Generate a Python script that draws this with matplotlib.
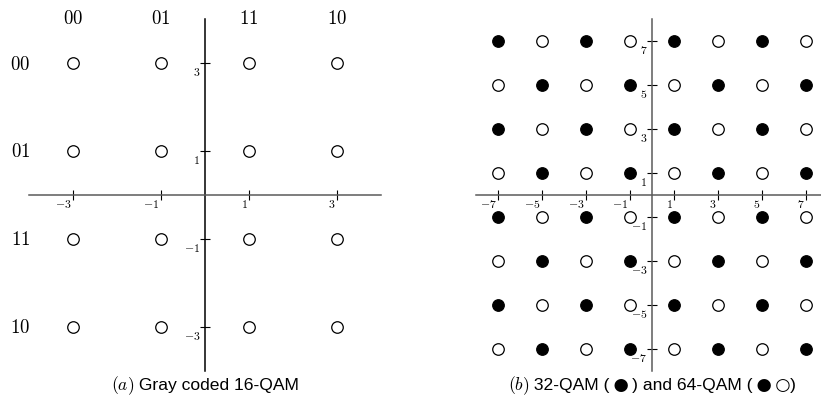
import matplotlib.pyplot as plt
import numpy as np
from matplotlib.offsetbox import TextArea, HPacker, AnchoredOffsetbox

plt.rcParams['mathtext.fontset'] = 'cm'

# 16-QAM: in-phase / quadrature levels and their Gray code bits
qam16_levels = [-3, -1, 1, 3]
gray_cols = ['00', '01', '11', '10']   # along I (left to right)
gray_rows = ['00', '01', '11', '10']   # along Q (top to bottom)
qam16_ticks = [-3, -1, 1, 3]

# 64-QAM grid; 1 marks the points that also belong to 32-QAM
qam64_levels = [-7, -5, -3, -1, 1, 3, 5, 7]
qam64_rows_q = [7, 5, 3, 1, -1, -3, -5, -7]
qam32_mask = [
    [1, 0, 1, 0, 1, 0, 1, 0],
    [0, 1, 0, 1, 0, 1, 0, 1],
    [1, 0, 1, 0, 1, 0, 1, 0],
    [0, 1, 0, 1, 0, 1, 0, 1],
    [1, 0, 1, 0, 1, 0, 1, 0],
    [0, 1, 0, 1, 0, 1, 0, 1],
    [1, 0, 1, 0, 1, 0, 1, 0],
    [0, 1, 0, 1, 0, 1, 0, 1],
]
qam64_ticks = [-7, -5, -3, -1, 1, 3, 5, 7]

AXIS_GRAY = '#5a5a5a'
MS = 8.3
MEW = 0.9
CAP_FS = 12.6
SANS = 'Liberation Sans'
SYM = 'DejaVu Sans'


def setup_axes(ax, lim, ticks, xcolor, ycolor):
    ax.set_xlim(-lim, lim)
    ax.set_ylim(-lim, lim)
    for s in ['top', 'right']:
        ax.spines[s].set_visible(False)
    ax.spines['left'].set_position('zero')
    ax.spines['bottom'].set_position('zero')
    ax.spines['bottom'].set_color(xcolor)
    ax.spines['left'].set_color(ycolor)
    ax.spines['bottom'].set_linewidth(1.1)
    ax.spines['left'].set_linewidth(1.1)
    ax.set_xticks(ticks)
    ax.set_yticks(ticks)
    ax.tick_params(axis='x', direction='inout', length=7, width=0.8,
                   color='black', labelbottom=False)
    ax.tick_params(axis='y', direction='inout', length=7, width=0.8,
                   color='black', labelleft=False)
    ax.patch.set_visible(False)
    # tick labels sit below-left of each tick, as in TikZ axes
    for t in ticks:
        lab = r'$%d$' % t if t > 0 else r'$-%d$' % abs(t)
        ax.annotate(lab, (t, 0), xytext=(-1.0, -1.6), textcoords='offset points',
                    ha='right', va='top', fontsize=8.5, annotation_clip=False)
        ax.annotate(lab, (0, t), xytext=(-3.4, -1.4), textcoords='offset points',
                    ha='right', va='top', fontsize=8.5, annotation_clip=False)


def caption(fig, x, y, parts):
    # parts: list of (text, family) pieces laid out side by side
    boxes = [TextArea(s, textprops=dict(fontsize=CAP_FS, family=fam))
             for s, fam in parts]
    row = HPacker(children=boxes, align='baseline', pad=0, sep=0)
    anc = AnchoredOffsetbox(loc='center', child=row, frameon=False, pad=0,
                            bbox_to_anchor=(x, y), bbox_transform=fig.transFigure)
    fig.add_artist(anc)


fig = plt.figure(figsize=(8.21, 4.06), dpi=100)
W, H = 821, 406
ax1 = fig.add_axes([29 / W, (H - 372) / H, 352 / W, 352 / H])
ax2 = fig.add_axes([476 / W, (H - 372) / H, 352 / W, 352 / H])

# (a) Gray coded 16-QAM
setup_axes(ax1, 4, qam16_ticks, AXIS_GRAY, 'black')
I, Q = np.meshgrid(qam16_levels, qam16_levels)
ax1.plot(I.ravel(), Q.ravel(), 'o', ms=MS, mfc='white', mec='black', mew=MEW,
         ls='none', clip_on=False)
for x, lab in zip(qam16_levels, gray_cols):
    ax1.text(x, 4.03, r'$%s$' % lab, ha='center', va='center', fontsize=13.5)
for y, lab in zip(qam16_levels[::-1], gray_rows):
    ax1.text(-4.2, y, r'$%s$' % lab, ha='center', va='center', fontsize=13.5)

# (b) 32-QAM inside 64-QAM
setup_axes(ax2, 8, qam64_ticks, AXIS_GRAY, AXIS_GRAY)
for row, y in zip(qam32_mask, qam64_rows_q):
    for filled, x in zip(row, qam64_levels):
        ax2.plot(x, y, 'o', ms=MS, mfc='black' if filled else 'white',
                 mec='black', mew=MEW, clip_on=False)

caption(fig, 205 / W, 1 - 386 / H, [(r'$(a)$', SANS), (' Gray coded 16-QAM', SANS)])
caption(fig, 652 / W, 1 - 386 / H, [
    (r'$(b)$', SANS), (' 32-QAM (', SANS), ('\u2009\u25CF\u2009', SYM),
    (') and 64-QAM (', SANS), ('\u2009\u25CF\u2009\u25CB', SYM), (')', SANS)])

fig.savefig('out.png', dpi=100)
